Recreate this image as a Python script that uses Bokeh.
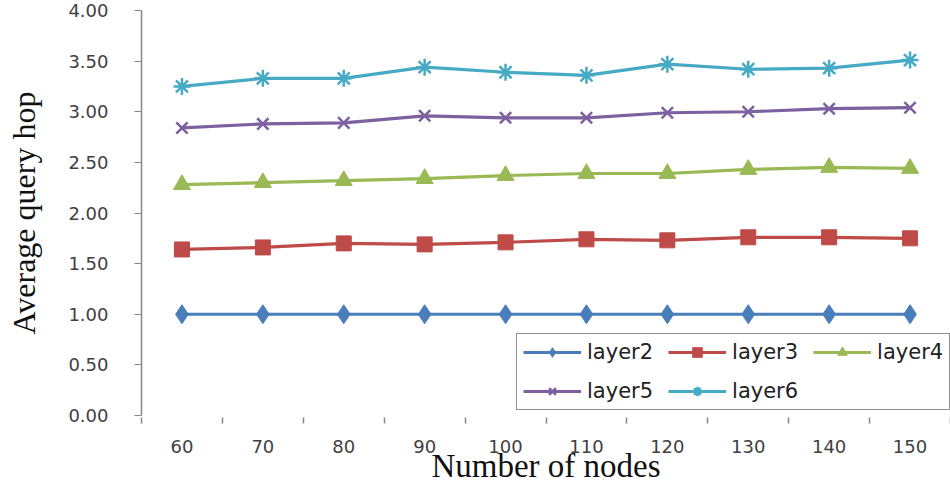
from bokeh.plotting import figure
from bokeh.models import FixedTicker, Legend, LegendItem, Range1d
from bokeh.embed import file_html
from bokeh.resources import INLINE

nodes = [60, 70, 80, 90, 100, 110, 120, 130, 140, 150]
layer2 = [1.00, 1.00, 1.00, 1.00, 1.00, 1.00, 1.00, 1.00, 1.00, 1.00]
layer3 = [1.64, 1.66, 1.70, 1.69, 1.71, 1.74, 1.73, 1.76, 1.76, 1.75]
layer4 = [2.28, 2.30, 2.32, 2.34, 2.37, 2.39, 2.39, 2.43, 2.45, 2.44]
layer5 = [2.84, 2.88, 2.89, 2.96, 2.94, 2.94, 2.99, 3.00, 3.03, 3.04]
layer6 = [3.25, 3.33, 3.33, 3.44, 3.39, 3.36, 3.47, 3.42, 3.43, 3.51]
y_ticks = [0.0, 0.5, 1.0, 1.5, 2.0, 2.5, 3.0, 3.5, 4.0]

series = [
    ("layer2", layer2, "#4A7EBB", "diamond", 19),
    ("layer3", layer3, "#BE4B48", "square", 15),
    ("layer4", layer4, "#98B954", "triangle", 17),
    ("layer5", layer5, "#7D60A0", "x", 16),
    ("layer6", layer6, "#46AAC5", "asterisk", 17),
]

p = figure(width=950, height=490, output_backend="svg", toolbar_location=None,
           x_range=Range1d(55, 155), y_range=Range1d(0, 4),
           min_border_left=141, min_border_right=0, min_border_top=10,
           min_border_bottom=75)
p.outline_line_color = None
p.xgrid.visible = False
p.ygrid.visible = False
p.background_fill_color = "white"
p.border_fill_color = "white"

# y axis
yax = p.yaxis[0]
yax.ticker = FixedTicker(ticks=y_ticks)
yax.major_label_overrides = {t: f"{t:.2f}" for t in y_ticks}
yax.axis_line_color = "#868686"
yax.axis_line_width = 1.5
yax.major_tick_line_color = "#868686"
yax.major_tick_out = 7
yax.major_tick_in = 0
yax.minor_tick_line_color = None
yax.major_label_text_font = "DejaVu Sans"
yax.major_label_text_font_size = "18px"
yax.major_label_text_color = "#404040"
yax.major_label_standoff = 26
yax.axis_label = "Average query hop"
yax.axis_label_text_font = "Liberation Serif"
yax.axis_label_text_font_style = "normal"
yax.axis_label_text_font_size = "32px"
yax.axis_label_text_color = "#111111"
yax.axis_label_standoff = 23

# x axis: labels at category centres, small ticks between them
xax = p.xaxis[0]
xax.ticker = FixedTicker(ticks=nodes, minor_ticks=[n - 5 for n in nodes] + [155])
xax.axis_line_color = None
xax.major_tick_line_color = None
xax.minor_tick_line_color = "#868686"
xax.minor_tick_line_width = 1.5
xax.minor_tick_out = 8
xax.minor_tick_in = -2
xax.major_label_text_font = "DejaVu Sans"
xax.major_label_text_font_size = "18px"
xax.major_label_text_color = "#404040"
xax.major_label_standoff = 16
xax.axis_label = "Number of nodes"
xax.axis_label_text_font = "Liberation Serif"
xax.axis_label_text_font_style = "normal"
xax.axis_label_text_font_size = "33px"
xax.axis_label_text_color = "#111111"
xax.axis_label_standoff = -8

items = {}
for name, vals, color, marker, size in series:
    ln = p.line(nodes, vals, line_color=color, line_width=3.2)
    sc = p.scatter(nodes, vals, marker=marker, size=size, fill_color=color,
                   line_color=color, line_width=2.5 if marker in ("x", "asterisk") else 1)
    items[name] = LegendItem(label=name, renderers=[ln, sc])

# legend fills column by column; order so rows read layer2..layer4 / layer5, layer6
legend_order = ["layer2", "layer5", "layer3", "layer6", "layer4"]
legend = Legend(items=[items[k] for k in legend_order], ncols=3, location=(375, 5),
                label_text_font="DejaVu Sans", label_text_font_size="21px",
                label_text_color="#222222", glyph_width=58, glyph_height=24,
                label_standoff=6, spacing=15, padding=6, margin=0,
                border_line_color="#222222", border_line_width=1.5,
                background_fill_color="white", background_fill_alpha=1.0)
p.add_layout(legend)

open("out.html", "w").write(file_html(p, INLINE))
